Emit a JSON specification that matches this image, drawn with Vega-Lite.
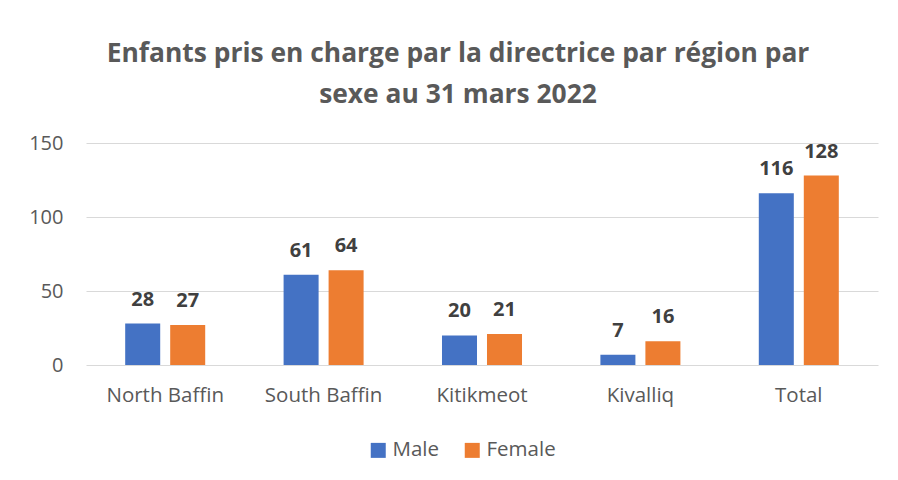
{
  "$schema": "https://vega.github.io/schema/vega-lite/v6.json",
  "width": 792,
  "height": 222,
  "autosize": {"type": "none"},
  "padding": {"left": 86, "top": 143, "right": 20, "bottom": 115},
  "background": "white",
  "config": {"view": {"stroke": null}},
  "title": {
    "text": ["Enfants pris en charge par la directrice par région par", "sexe au 31 mars 2022"],
    "font": "Open Sans",
    "fontSize": 26.4,
    "fontWeight": "bold",
    "color": "#595959",
    "anchor": "middle",
    "lineHeight": 41,
    "offset": 25,
    "dx": -24
  },
  "data": {
    "values": [
      {"region": "North Baffin", "sexe": "Male", "value": 28},
      {"region": "North Baffin", "sexe": "Female", "value": 27},
      {"region": "South Baffin", "sexe": "Male", "value": 61},
      {"region": "South Baffin", "sexe": "Female", "value": 64},
      {"region": "Kitikmeot", "sexe": "Male", "value": 20},
      {"region": "Kitikmeot", "sexe": "Female", "value": 21},
      {"region": "Kivalliq", "sexe": "Male", "value": 7},
      {"region": "Kivalliq", "sexe": "Female", "value": 16},
      {"region": "Total", "sexe": "Male", "value": 116},
      {"region": "Total", "sexe": "Female", "value": 128}
    ]
  },
  "encoding": {
    "x": {
      "field": "region",
      "type": "nominal",
      "sort": ["North Baffin", "South Baffin", "Kitikmeot", "Kivalliq", "Total"],
      "scale": {"paddingInner": 0, "paddingOuter": 0},
      "axis": {
        "title": null,
        "labelAngle": 0,
        "labelFont": "Open Sans",
        "labelFontSize": 20.5,
        "labelColor": "#595959",
        "labelPadding": 20,
        "domain": false,
        "ticks": false,
        "grid": false
      }
    },
    "xOffset": {
      "field": "sexe",
      "type": "nominal",
      "sort": ["Male", "Female"],
      "scale": {"paddingInner": 0.222, "paddingOuter": 0.871}
    },
    "y": {
      "field": "value",
      "type": "quantitative",
      "scale": {"domain": [0, 150]},
      "axis": {
        "title": null,
        "values": [0, 50, 100, 150],
        "labelFont": "Open Sans",
        "labelFontSize": 20,
        "labelColor": "#595959",
        "labelPadding": 23,
        "domain": false,
        "ticks": false,
        "grid": true,
        "gridColor": "#d9d9d9",
        "gridWidth": 1
      }
    }
  },
  "layer": [
    {
      "mark": {"type": "bar"},
      "encoding": {
        "color": {
          "field": "sexe",
          "type": "nominal",
          "sort": ["Male", "Female"],
          "scale": {"domain": ["Male", "Female"], "range": ["#4472C4", "#ED7D31"]},
          "legend": {
            "title": null,
            "orient": "none",
            "legendX": 282,
            "legendY": 297,
            "direction": "horizontal",
            "symbolType": "square",
            "symbolSize": 225,
            "symbolStrokeWidth": 0,
            "labelFont": "Open Sans",
            "labelFontSize": 20.5,
            "labelColor": "#595959",
            "labelOffset": 4,
            "columnPadding": 22
          }
        }
      }
    },
    {
      "mark": {
        "type": "text",
        "dy": -18,
        "baseline": "alphabetic",
        "font": "Open Sans",
        "fontSize": 20,
        "fontWeight": "bold",
        "color": "#404040"
      },
      "encoding": {
        "text": {"field": "value", "type": "quantitative"}
      }
    }
  ]
}
